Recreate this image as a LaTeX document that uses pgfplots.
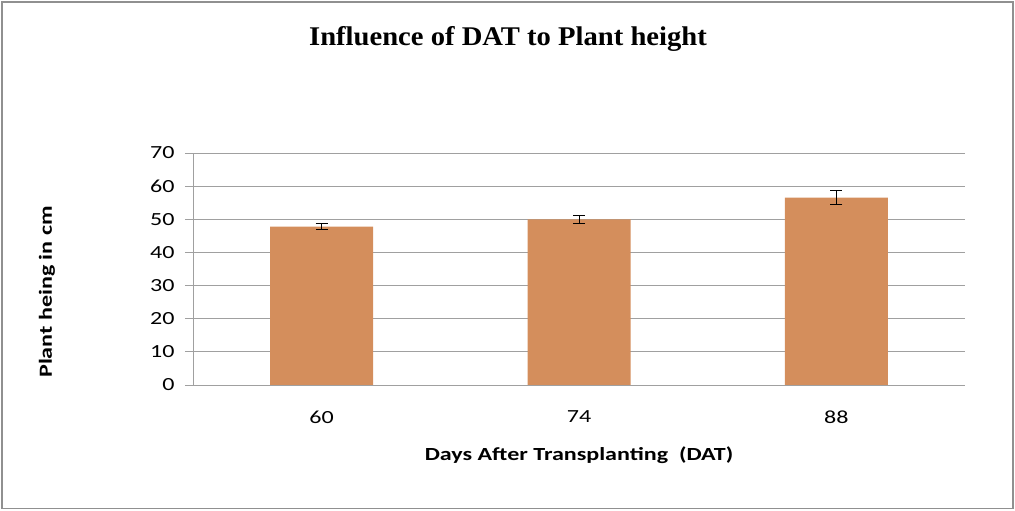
\documentclass[border=0pt]{standalone}
\usepackage{fontspec}
\setmainfont[FakeStretch=1.3]{Carlito}
\newfontfamily\titlefont[FakeStretch=1.06]{Liberation Serif}
\usepackage{pgfplots}
\pgfplotsset{compat=1.18}
\definecolor{cork}{RGB}{212,142,92}
\definecolor{gridgray}{RGB}{160,160,160}
\begin{document}
\begin{tikzpicture}[x=1pt,y=1pt]
\path[use as bounding box] (0,0) rectangle (1015,511);
\draw[gridgray!90!black, line width=1.2pt] (2,2.5) rectangle (1013,509);
\node at (508,472) {\titlefont\bfseries\fontsize{27}{30}\selectfont Influence of DAT to Plant height};
\node[rotate=90] at (47,219) {\bfseries\fontsize{18.5}{22}\selectfont Plant heing in cm};
\begin{axis}[
  at={(193pt,126pt)}, anchor=south west,
  scale only axis, width=772pt, height=232pt,
  xmin=-0.5, xmax=2.5, ymin=0, ymax=70,
  xtick=data, xticklabels={60,74,88},
  ytick={0,10,...,70},
  axis x line*=bottom, axis y line*=left,
  axis line style={gridgray, line width=0.8pt, -},
  ymajorgrids, grid style={gridgray, line width=0.8pt},
  x tick style={draw=none},
  y tick style={gridgray, line width=0.8pt},
  major tick length=8pt,
  tick align=outside,
  /pgf/number format/assume math mode=true,
  ticklabel style={font=\fontsize{18.5}{22}\selectfont},
  yticklabel style={xshift=-7pt},
  xticklabel style={yshift=-14pt},
  xlabel={\bfseries\fontsize{18.5}{22}\selectfont Days After Transplanting\ \ (DAT)},
  xlabel style={yshift=-17pt},
  clip=false,
]
\addplot[ybar, bar width=103pt, draw=none, fill=cork,
  error bars/.cd, y dir=both, y explicit,
  error bar style={black, line width=0.8pt},
  error mark options={black, rotate=90, mark size=6pt, line width=0.8pt}]
  coordinates {
  (0,47.8) +- (0,1.0)
  (1,50.0) +- (0,1.25)
  (2,56.5) +- (0,2.1)
  };
\end{axis}
\end{tikzpicture}
\end{document}
